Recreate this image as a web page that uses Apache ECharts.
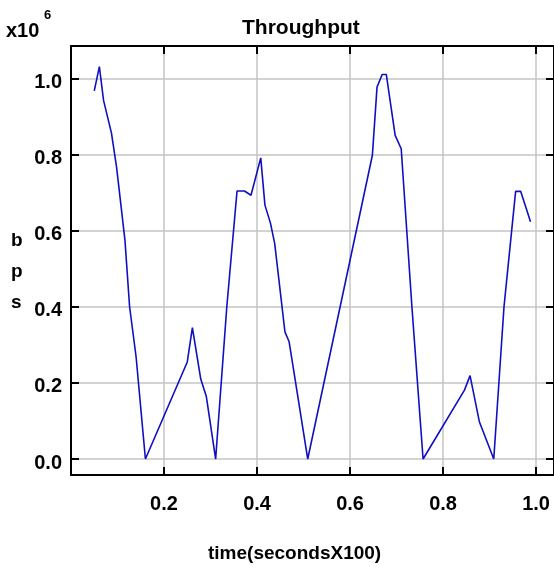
<!DOCTYPE html>
<html>
<head>
<meta charset="utf-8">
<script src="https://cdn.jsdelivr.net/npm/echarts@6/dist/echarts.min.js"></script>
<style>
  html, body { margin: 0; padding: 0; background: #ffffff; }
  #chart { width: 554px; height: 567px; }
</style>
</head>
<body>
<div id="chart"></div>
<script>
// Sample times (seconds x 100) and measured throughput (x10^6 bps)
const timeValues = [
  0.050, 0.061, 0.070, 0.087, 0.098, 0.116, 0.126, 0.140, 0.160,
  0.250, 0.261, 0.279, 0.291, 0.311,
  0.335, 0.357, 0.373, 0.387, 0.408, 0.417, 0.429, 0.438,
  0.460, 0.469, 0.481, 0.509,
  0.648, 0.658, 0.669, 0.678, 0.697, 0.710, 0.733, 0.757,
  0.846, 0.858, 0.878, 0.909,
  0.931, 0.956, 0.967, 0.988
];
const throughputValues = [
  0.967, 1.031, 0.942, 0.856, 0.767, 0.575, 0.400, 0.268, 0.000,
  0.255, 0.345, 0.210, 0.164, 0.000,
  0.400, 0.704, 0.704, 0.693, 0.791, 0.667, 0.619, 0.566,
  0.334, 0.308, 0.216, 0.000,
  0.798, 0.977, 1.010, 1.010, 0.850, 0.815, 0.400, 0.000,
  0.181, 0.219, 0.098, 0.000,
  0.400, 0.703, 0.703, 0.623
];
const yTickValues = [0, 0.2, 0.4, 0.6, 0.8, 1.0];

const xMin = 0, xMax = 1.0385, xStep = 0.2;
const yMin = -0.042, yMax = 1.085;

const points = timeValues.map((t, i) => [t, throughputValues[i]]);

const FONT = '"Liberation Sans", Arial, sans-serif';
const frameLine = { show: true, onZero: false, lineStyle: { color: '#000', width: 2 } };
const innerTick = { show: true, inside: true, length: 8, lineStyle: { color: '#000', width: 2 } };
const gridLine = { show: true, lineStyle: { color: '#c4c4c4', width: 1.5 } };

const chart = echarts.init(document.getElementById('chart'), null, { renderer: 'canvas' });
chart.setOption({
  animation: false,
  backgroundColor: '#ffffff',
  title: {
    text: 'Throughput',
    left: 242, top: 18, padding: 0,
    textStyle: { fontFamily: FONT, fontWeight: 'bold', fontSize: 21, color: '#000' }
  },
  grid: { left: 71, top: 46, width: 485, height: 429, containLabel: false },
  xAxis: [
    {
      type: 'value', position: 'bottom', min: xMin, max: xMax, interval: xStep,
      axisLine: frameLine, axisTick: innerTick, splitLine: gridLine,
      axisLabel: {
        showMinLabel: false, showMaxLabel: false, margin: 19,
        fontFamily: FONT, fontWeight: 'bold', fontSize: 20, color: '#000',
        formatter: v => v.toFixed(1)
      }
    },
    {
      type: 'value', position: 'top', min: xMin, max: xMax, interval: xStep,
      axisLine: frameLine, axisTick: innerTick,
      splitLine: { show: false }, axisLabel: { show: false }
    }
  ],
  yAxis: [
    {
      type: 'value', position: 'left', min: yMin, max: yMax,
      axisLine: frameLine,
      axisTick: Object.assign({ customValues: yTickValues }, innerTick),
      splitLine: gridLine,
      axisLabel: {
        customValues: yTickValues, margin: 9,
        verticalAlign: 'top', lineHeight: 8,
        fontFamily: FONT, fontWeight: 'bold', fontSize: 20, color: '#000',
        formatter: v => v.toFixed(1)
      }
    },
    {
      type: 'value', position: 'right', min: yMin, max: yMax,
      axisLine: frameLine,
      axisTick: Object.assign({ customValues: yTickValues }, innerTick),
      splitLine: { show: false }, axisLabel: { show: false }
    }
  ],
  graphic: [
    {
      type: 'text', left: 6, top: 21,
      style: { text: 'x10', font: 'bold 20px ' + FONT, fill: '#000' }
    },
    {
      type: 'text', left: 44, top: 9,
      style: { text: '6', font: 'bold 13px ' + FONT, fill: '#000' }
    },
    {
      type: 'text', left: 11, top: 225,
      style: { text: 'b\np\ns', font: 'bold 19px ' + FONT, lineHeight: 31, fill: '#000' }
    },
    {
      type: 'text', left: 208, top: 544,
      style: { text: 'time(secondsX100)', font: 'bold 19px ' + FONT, fill: '#000' }
    }
  ],
  series: [
    {
      type: 'line', data: points, showSymbol: false, smooth: false,
      lineStyle: { color: '#1010c0', width: 1.6 }
    }
  ]
});
</script>
</body>
</html>
